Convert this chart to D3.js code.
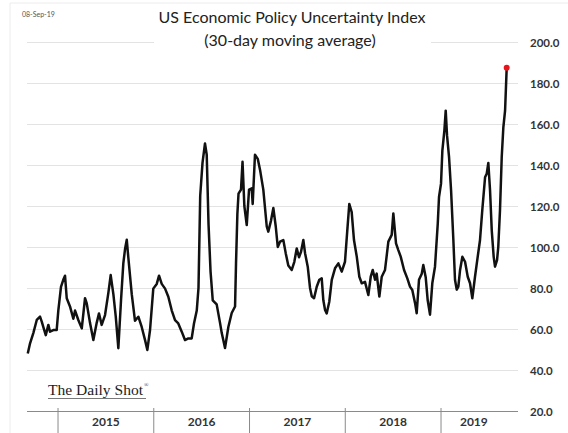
<!DOCTYPE html>
<html>
<head>
<meta charset="utf-8">
<script src="https://cdn.jsdelivr.net/npm/d3@7"></script>
<style>
  body { margin: 0; background: #fff; }
</style>
</head>
<body>
<div id="main"></div>
<script>
// ---------------- data --------------------------------------//

// dates as decimal years, values = 30-day moving average of the EPU index
let yearFrac = [
  2014.684, 2014.708, 2014.742, 2014.778, 2014.812, 2014.830, 2014.846, 2014.872, 2014.899, 2014.916,
  2014.951, 2014.986, 2015.003, 2015.031, 2015.055, 2015.073, 2015.091, 2015.125, 2015.160, 2015.178,
  2015.212, 2015.248, 2015.282, 2015.300, 2015.334, 2015.369, 2015.404, 2015.428, 2015.456, 2015.491,
  2015.525, 2015.550, 2015.578, 2015.603, 2015.630, 2015.658, 2015.682, 2015.700, 2015.718, 2015.734,
  2015.770, 2015.804, 2015.839, 2015.874, 2015.909, 2015.933, 2015.961, 2015.995, 2016.031, 2016.055,
  2016.083, 2016.118, 2016.152, 2016.188, 2016.222, 2016.256, 2016.292, 2016.326, 2016.361, 2016.396,
  2016.420, 2016.449, 2016.467, 2016.485, 2016.509, 2016.535, 2016.553, 2016.572, 2016.593, 2016.616,
  2016.657, 2016.692, 2016.710, 2016.726, 2016.744, 2016.779, 2016.814, 2016.849, 2016.859, 2016.873,
  2016.885, 2016.911, 2016.927, 2016.946, 2016.971, 2016.995, 2017.023, 2017.033, 2017.057, 2017.086,
  2017.110, 2017.144, 2017.180, 2017.196, 2017.225, 2017.249, 2017.274, 2017.295, 2017.319, 2017.353,
  2017.378, 2017.405, 2017.441, 2017.468, 2017.493, 2017.517, 2017.538, 2017.562, 2017.580, 2017.608,
  2017.632, 2017.650, 2017.674, 2017.702, 2017.729, 2017.754, 2017.771, 2017.789, 2017.806, 2017.833,
  2017.859, 2017.893, 2017.928, 2017.963, 2017.997, 2018.021, 2018.042, 2018.067, 2018.091, 2018.120,
  2018.147, 2018.172, 2018.206, 2018.241, 2018.266, 2018.287, 2018.311, 2018.328, 2018.356, 2018.381,
  2018.415, 2018.450, 2018.485, 2018.502, 2018.530, 2018.554, 2018.579, 2018.614, 2018.648, 2018.676,
  2018.700, 2018.729, 2018.746, 2018.770, 2018.799, 2018.815, 2018.840, 2018.861, 2018.885, 2018.909,
  2018.937, 2018.966, 2018.979, 2019.000, 2019.014, 2019.035, 2019.049, 2019.063, 2019.084, 2019.105,
  2019.129, 2019.146, 2019.164, 2019.181, 2019.199, 2019.223, 2019.251, 2019.279, 2019.303, 2019.327,
  2019.355, 2019.383, 2019.407, 2019.431, 2019.460, 2019.477, 2019.494, 2019.512, 2019.530, 2019.550,
  2019.564, 2019.585, 2019.598, 2019.616, 2019.634, 2019.651, 2019.669, 2019.686
];

let epu = [
  48.0, 53.0, 58.0, 64.4, 66.0, 63.6, 61.0, 57.0, 62.0, 58.7,
  59.5, 59.5, 69.0, 80.6, 84.0, 86.0, 75.0, 71.0, 65.0, 69.0,
  64.4, 60.3, 75.0, 72.5, 63.0, 54.6, 63.0, 67.6, 62.0, 66.8,
  77.4, 86.3, 77.0, 66.0, 50.6, 74.0, 92.0, 99.0, 103.5, 95.0,
  77.0, 64.0, 66.0, 61.0, 54.6, 49.8, 59.5, 79.7, 82.0, 86.0,
  82.0, 79.7, 75.7, 69.0, 64.3, 62.7, 58.7, 54.6, 55.4, 55.4,
  62.7, 69.0, 80.0, 125.0, 141.0, 150.5, 145.0, 111.0, 88.0, 74.0,
  72.0, 63.0, 58.0, 54.6, 50.7, 61.0, 67.8, 71.0, 92.0, 116.0,
  126.0, 128.0, 141.6, 120.0, 110.7, 128.0, 128.6, 121.0, 145.0, 143.0,
  137.6, 128.0, 110.0, 107.5, 113.0, 119.0, 110.0, 100.0, 102.6, 103.4,
  97.0, 91.0, 88.8, 92.8, 99.3, 95.0, 97.7, 103.4, 97.0, 90.4,
  80.0, 76.0, 75.0, 80.6, 84.0, 84.7, 74.0, 69.3, 67.6, 73.3,
  84.0, 89.6, 92.0, 88.0, 92.8, 108.0, 121.0, 117.0, 103.4, 95.3,
  85.5, 82.3, 83.0, 76.6, 85.5, 88.8, 84.0, 87.0, 75.8, 85.5,
  88.8, 102.6, 105.9, 116.4, 101.8, 98.5, 95.3, 88.8, 84.7, 80.7,
  79.0, 72.6, 67.7, 84.0, 87.0, 91.2, 85.3, 74.0, 67.0, 82.3,
  90.4, 111.4, 124.4, 130.9, 147.0, 156.8, 166.5, 154.3, 143.8, 127.6,
  103.3, 84.0, 79.2, 80.7, 88.8, 95.2, 92.8, 85.5, 82.3, 75.0,
  85.5, 95.2, 103.3, 118.0, 134.0, 135.7, 141.0, 127.6, 108.0, 95.2,
  90.4, 93.6, 100.0, 118.0, 143.8, 158.4, 166.5, 187.5
];

let yTicks = [20, 40, 60, 80, 100, 120, 140, 160, 180, 200];
let years = [2015, 2016, 2017, 2018, 2019];

let dateLabel = "08-Sep-19";
let title = "US Economic Policy Uncertainty Index";
let subtitle = "(30-day moving average)";
let source = "The Daily Shot";

// ---------------- global formatting vars -----------------//

let width = 568;
let height = 433;
let plotLeft = 27;
let plotRight = 518;
let plotTop = 42;
let plotBottom = 411;

let svg = d3.select("#main")
  .append("svg")
  .attr("width", width)
  .attr("height", height)
  .style("font-family", "Lato, 'Open Sans', sans-serif");

let data = yearFrac.map(function(t, i) {
  return {t: t, v: epu[i]};
});

let xScale = d3.scaleLinear()
  .domain([2014.676, 2019.804])
  .range([plotLeft, plotRight]);

let yScale = d3.scaleLinear()
  .domain([20, 200])
  .range([plotBottom, plotTop]);

let lastT = d3.max(yearFrac);

// faint frame
svg.append("path")
  .attr("d", `M10,${height} V3 H${width}`)
  .attr("fill", "none")
  .attr("stroke", "#ececec")
  .attr("stroke-width", 1);

// ---------------- gridlines & y labels -----------------//

let yAxis = d3.axisRight(yScale)
  .tickValues(yTicks)
  .tickSize(plotRight - plotLeft)
  .tickFormat(d3.format(".1f"));

let yAxisG = svg.append("g")
  .attr("transform", `translate(${plotLeft}, 0)`)
  .call(yAxis);

yAxisG.select(".domain").remove();
yAxisG.selectAll(".tick line")
  .attr("stroke", "#e3e3e3")
  .attr("stroke-width", 1);
yAxisG.selectAll(".tick")
  .filter(d => d === 20)
  .select("line")
  .attr("stroke", "#8a8a8a");
yAxisG.selectAll(".tick text")
  .attr("x", 530 - plotLeft)
  .attr("dy", "0.35em")
  .attr("fill", "#333")
  .style("font-size", "11.5px")
  .style("font-weight", "bold")
  .style("font-family", "Lato, sans-serif");

// ---------------- x axis (years) -----------------//

let xAxisG = svg.append("g").attr("class", "xAxis");

xAxisG.selectAll("line")
  .data(years)
  .join("line")
  .attr("x1", d => xScale(d))
  .attr("x2", d => xScale(d))
  .attr("y1", plotBottom - 3)
  .attr("y2", height)
  .attr("stroke", "#8a8a8a")
  .attr("stroke-width", 1);

xAxisG.selectAll("text")
  .data(years)
  .join("text")
  .attr("x", d => (xScale(d) + xScale(Math.min(d + 1, lastT))) / 2)
  .attr("y", 426)
  .attr("text-anchor", "middle")
  .attr("fill", "#333")
  .style("font-size", "12px")
  .style("font-weight", "bold")
  .text(d => d);

// ---------------- the line -----------------//

let line = d3.line()
  .x(d => xScale(d.t))
  .y(d => yScale(d.v));

svg.append("path")
  .datum(data)
  .attr("d", line)
  .attr("fill", "none")
  .attr("stroke", "#111")
  .attr("stroke-width", 2.5)
  .attr("stroke-linejoin", "round");

let last = data[data.length - 1];
svg.append("circle")
  .attr("cx", xScale(last.t))
  .attr("cy", yScale(last.v))
  .attr("r", 3)
  .attr("fill", "#e8141b");

// ---------------- titles -----------------//

svg.append("rect")
  .attr("x", 154)
  .attr("y", 30)
  .attr("width", 277)
  .attr("height", 22)
  .attr("fill", "#fff");

svg.append("text")
  .attr("x", 292)
  .attr("y", 23)
  .attr("text-anchor", "middle")
  .attr("fill", "#222")
  .style("font-size", "16px")
  .text(title);

svg.append("text")
  .attr("x", 290)
  .attr("y", 46)
  .attr("text-anchor", "middle")
  .attr("fill", "#222")
  .style("font-size", "16px")
  .text(subtitle);

svg.append("text")
  .attr("x", 22)
  .attr("y", 17)
  .attr("fill", "#555")
  .style("font-size", "7px")
  .text(dateLabel);

// source logo
svg.append("text")
  .attr("x", 48)
  .attr("y", 395)
  .attr("fill", "#222")
  .style("font-family", "'Liberation Serif', 'DejaVu Serif', serif")
  .style("font-size", "15px")
  .attr("textLength", 95)
  .attr("lengthAdjust", "spacingAndGlyphs")
  .text(source);

svg.append("text")
  .attr("x", 144)
  .attr("y", 387)
  .attr("fill", "#333")
  .style("font-family", "'Liberation Serif', serif")
  .style("font-size", "6px")
  .text("®");

svg.append("line")
  .attr("x1", 48)
  .attr("x2", 146)
  .attr("y1", 398.5)
  .attr("y2", 398.5)
  .attr("stroke", "#555")
  .attr("stroke-width", 0.8);
</script>
</body>
</html>
